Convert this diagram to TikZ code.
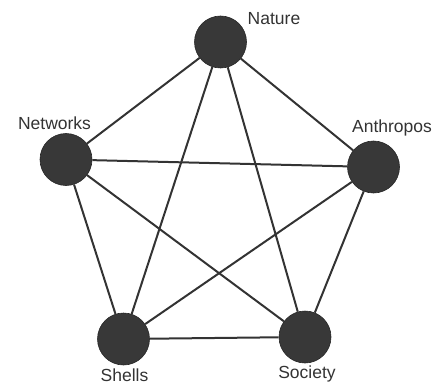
\documentclass[tikz,border=0pt]{standalone}
\usepackage{fontspec}
\setmainfont{Liberation Sans}
\begin{document}
\begin{tikzpicture}[x=1pt,y=-1pt,
  dot/.style={circle,fill=black!78,draw=black!85,line width=0.6pt,minimum size=52pt,inner sep=0pt},
  lbl/.style={font=\fontsize{17.5}{20}\selectfont,text=black!80,inner sep=0pt},
  edge/.style={line width=2pt,draw=black!80}]
\useasboundingbox (0,0) rectangle (436,385);
\node[dot] (na) at (220.5,42) {};
\node[dot] (ne) at (66,159.5) {};
\node[dot] (an) at (373.5,167) {};
\node[dot] (sh) at (123.5,339) {};
\node[dot] (so) at (305,337) {};
\node[lbl] (lna) at (274,19) {Nature};
\node[lbl] (lne) at (54.5,123.5) {Networks};
\node[lbl] (lan) at (392,128) {Anthropos};
\node[lbl] (lsh) at (124.5,375.5) {Shells};
\node[lbl] (lso) at (307,374) {Society};
\draw[edge] (na) -- (ne);
\draw[edge] (na) -- (an);
\draw[edge] (na) -- (sh);
\draw[edge] (na) -- (so);
\draw[edge] (ne) -- (an);
\draw[edge] (ne) -- (sh);
\draw[edge] (ne) -- (so);
\draw[edge] (an) -- (sh);
\draw[edge] (an) -- (so);
\draw[edge] (sh) -- (so);
\end{tikzpicture}
\end{document}
